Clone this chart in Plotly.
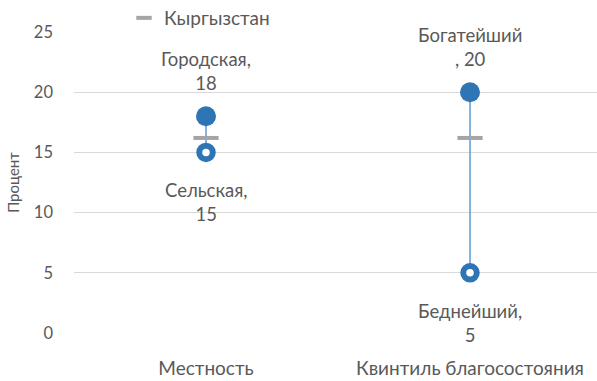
import plotly.graph_objects as go

# Categories and values (percent)
categories = ["Местность", "Квинтиль благосостояния"]
high_names = ["Городская", "Богатейший"]
high_values = [18, 20]
low_names = ["Сельская", "Беднейший"]
low_values = [15, 5]
national_name = "Кыргызстан"
national_values = [16.2, 16.2]
y_ticks = [0, 5, 10, 15, 20, 25]

high_labels = [f"{high_names[0]},<br>{high_values[0]}", f"{high_names[1]}<br>, {high_values[1]}"]
low_labels = [f"{n},<br>{v}" for n, v in zip(low_names, low_values)]

BLUE = "#2E75B6"
LINE_BLUE = "#5B9BD5"
GREY = "#A5A5A5"
TEXT = "#595959"
FONT = "Lato"

xpos = list(range(len(categories)))

fig = go.Figure()

# connecting range lines
for i in xpos:
    fig.add_trace(go.Scatter(
        x=[i, i], y=[low_values[i], high_values[i]], mode="lines",
        line=dict(color=LINE_BLUE, width=1.5), showlegend=False, hoverinfo="skip"))

# national reference
fig.add_trace(go.Scatter(
    x=xpos, y=national_values, mode="markers", name=national_name,
    marker=dict(symbol="line-ew", size=18, line=dict(color=GREY, width=4)),
    showlegend=False, legendgroup="nat"))
# legend entry with a shorter dash
fig.add_trace(go.Scatter(
    x=[None], y=[None], mode="markers", name=national_name, legendgroup="nat",
    marker=dict(symbol="line-ew", size=11, line=dict(color=GREY, width=4)),
    showlegend=True))

# low group (hollow)
fig.add_trace(go.Scatter(
    x=xpos, y=low_values, mode="markers", showlegend=False,
    marker=dict(symbol="circle", size=13.5, color="white", line=dict(color=BLUE, width=6))))

# high group (filled)
fig.add_trace(go.Scatter(
    x=xpos, y=high_values, mode="markers", showlegend=False,
    marker=dict(symbol="circle", size=20, color=BLUE, line=dict(width=0))))

for i in xpos:
    fig.add_annotation(x=i, y=high_values[i], text=high_labels[i], showarrow=False,
                       yanchor="bottom", yshift=20, font=dict(family=FONT, size=18.5, color=TEXT))
    fig.add_annotation(x=i, y=low_values[i], text=low_labels[i], showarrow=False,
                       yanchor="top", yshift=-25, font=dict(family=FONT, size=18.5, color=TEXT))

fig.update_layout(
    width=597, height=381,
    margin=dict(l=74, r=0, t=32, b=48, autoexpand=False),
    paper_bgcolor="white", plot_bgcolor="white",
    font=dict(family=FONT, size=16, color=TEXT),
    legend=dict(orientation="h", x=0.0956, y=1.0465, xanchor="left", yanchor="middle",
                font=dict(family=FONT, size=19, color=TEXT), bgcolor="rgba(0,0,0,0)",
                itemwidth=30),
    xaxis=dict(range=[-0.5, 1.481], tickmode="array", tickvals=xpos, ticktext=categories,
               showgrid=False, zeroline=False, showline=False, ticks="",
               tickfont=dict(family=FONT, size=19, color=TEXT),
               ticklabelstandoff=22, fixedrange=True),
    yaxis=dict(range=[0, 25], tickmode="array", tickvals=y_ticks,
               showgrid=True, gridcolor="#D9D9D9", gridwidth=1, zeroline=False,
               showline=False, ticks="", ticklabelstandoff=20,
               tickfont=dict(family=FONT, size=16.5, color=TEXT),
               title=dict(text="Процент", font=dict(family=FONT, size=15, color=TEXT), standoff=10)),
)

fig.write_html("out.html")
